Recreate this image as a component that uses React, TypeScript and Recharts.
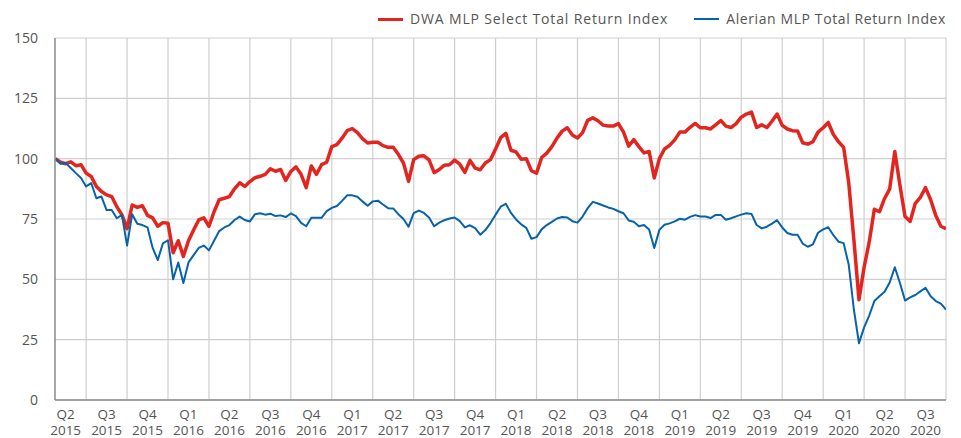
import { CartesianGrid, Line, LineChart, XAxis, YAxis } from "recharts";

// eight readings per quarter, starting a quarter of the way into Q2 2015
const dwa2015 = [
  100, 98.5, 97.9, 98.7, 97.1, 97.5,
  94, 92.6, 88.5, 86.4, 85, 84.3, 80.1, 76.7,
  71, 80.8, 79.8, 80.5, 76.5, 75.5, 72, 73.5,
];
const dwa2016 = [
  73.2, 61, 66, 59.5, 66, 70.4, 74.6, 75.5,
  72, 78, 83, 83.6, 84.3, 87.5, 90, 88.5,
  90.5, 92.1, 92.7, 93.5, 95.8, 94.8, 95.5, 91,
  94.7, 96.6, 93.5, 88, 97, 93.5, 97.5, 98.5,
];
const dwa2017 = [
  105, 105.8, 108.5, 111.6, 112.5, 110.8, 108.3, 106.5,
  106.8, 106.8, 105.4, 104.7, 104.7, 101.8, 98.2, 90.6,
  99.6, 101, 101.2, 99.5, 94.2, 95.5, 97.3, 97.5,
  99.4, 97.7, 94.3, 99.3, 96.1, 95.4, 98.2, 99.6,
];
const dwa2018 = [
  104, 108.7, 110.5, 103.5, 102.8, 99.8, 100, 95,
  94, 100.5, 102.3, 105, 108.5, 111.4, 112.8, 109.8,
  108.6, 110.8, 115.9, 116.9, 115.7, 113.9, 113.5, 113.5,
  114.5, 111, 105.2, 107.9, 105, 102.4, 103, 92,
];
const dwa2019 = [
  100, 104, 105.5, 107.8, 111, 111, 113, 114.6,
  112.8, 112.8, 112.3, 114, 115.8, 113.5, 112.9, 114.5,
  117.2, 118.5, 119.3, 112.9, 114, 112.9, 115.5, 118.5,
  113.8, 112.3, 111.6, 111.5, 106.6, 106, 107, 111,
];
const dwa2020 = [
  112.8, 115, 110, 107, 104.7, 90, 66.5, 41.5,
  55, 65.5, 79, 78, 83.5, 87.5, 103, 89,
  76, 74, 81.5, 84, 88, 83, 76.5, 72, 71,
];

const alerian2015 = [
  100, 97.9, 98.2, 96.1, 94, 92,
  88.5, 89.9, 83.6, 84.3, 78.7, 78.7, 75.3, 76.7,
  64, 77, 73, 72.5, 71.5, 63, 58, 64.9,
];
const alerian2016 = [
  66.2, 50, 57, 48.5, 57, 60, 63, 64,
  62, 66, 70, 71.5, 72.5, 74.6, 76, 74.6,
  74, 77, 77.4, 76.8, 77.2, 76.2, 76.5, 75.8,
  77.3, 76.2, 73.4, 72, 75.5, 75.5, 75.5, 78.3,
];
const alerian2017 = [
  79.6, 80.4, 82.5, 84.8, 84.8, 84.2, 82.3, 80.5,
  82.3, 82.6, 81, 79.5, 79.4, 77, 75, 71.8,
  77.4, 78.5, 77.5, 75.6, 72, 73.5, 74.5, 75.2,
  75.6, 74.1, 71.5, 72.4, 71.2, 68.5, 70.4, 73.3,
];
const alerian2018 = [
  76.8, 80.1, 81.3, 77.5, 74.8, 72.8, 71.3, 66.8,
  67.5, 70.7, 72.5, 73.8, 75.2, 75.8, 75.6, 74.1,
  73.5, 76, 79.5, 82.1, 81.4, 80.6, 79.8, 79.2,
  78.2, 77.4, 74.4, 73.9, 72, 72.5, 70.6, 63,
];
const alerian2019 = [
  70.5, 72.6, 73.2, 74, 75.1, 74.7, 75.9, 76.6,
  76, 76, 75.4, 76.7, 76.7, 74.7, 75.3, 76.1,
  76.8, 77.4, 77.1, 72.5, 71.1, 71.8, 73.1, 74.5,
  71.5, 69.2, 68.5, 68.5, 64.8, 63.5, 64.5, 69.3,
];
const alerian2020 = [
  70.7, 71.6, 68.3, 65.6, 65, 56, 37.5, 23.5,
  30.1, 35, 41, 43, 44.9, 48.7, 55, 48.5,
  41.2, 42.5, 43.5, 45, 46.5, 43, 41, 39.9, 37.5,
];

const quarterNames = [
  "Q2", "Q3", "Q4",
  "Q1", "Q2", "Q3", "Q4",
  "Q1", "Q2", "Q3", "Q4",
  "Q1", "Q2", "Q3", "Q4",
  "Q1", "Q2", "Q3", "Q4",
  "Q1", "Q2", "Q3",
];
const quarterYears = [
  "2015", "2015", "2015",
  "2016", "2016", "2016", "2016",
  "2017", "2017", "2017", "2017",
  "2018", "2018", "2018", "2018",
  "2019", "2019", "2019", "2019",
  "2020", "2020", "2020",
];
const yTicks = [0, 25, 50, 75, 100, 125, 150];

const START = 0.25;
const STEP = 0.125;
const X_MIN = 0.24;
const X_MAX = quarterNames.length;

const dwa = [...dwa2015, ...dwa2016, ...dwa2017, ...dwa2018, ...dwa2019, ...dwa2020];
const alerian = [
  ...alerian2015, ...alerian2016, ...alerian2017,
  ...alerian2018, ...alerian2019, ...alerian2020,
];
const data = dwa.map((v, i) => ({ t: START + i * STEP, dwa: v, alerian: alerian[i] }));

const labelTicks = quarterNames.map((_, i) => i + 0.5);
const boundaries = quarterNames.map((_, i) => i + 1);

const RED = "#e2261f";
const BLUE = "#0763a9";
const TEXT = "#555555";
const FONT = "'Open Sans', sans-serif";

function QuarterTick({ x, y, payload }: any) {
  const i = Math.floor(payload.value);
  return (
    <g>
      <text x={x} y={y + 19} textAnchor="middle" fill={TEXT} fontSize={13.5} fontFamily={FONT}>
        {quarterNames[i]}
      </text>
      <text x={x} y={y + 35} textAnchor="middle" fill={TEXT} fontSize={13.5} fontFamily={FONT}>
        {quarterYears[i]}
      </text>
    </g>
  );
}

function LegendItem(props: { color: string; width: number; label: string; spacing: number }) {
  return (
    <div style={{ display: "flex", alignItems: "center", marginLeft: 26 }}>
      <span
        style={{
          display: "inline-block",
          width: 25,
          height: props.width,
          background: props.color,
          marginRight: 7,
        }}
      />
      <span style={{ letterSpacing: props.spacing }}>{props.label}</span>
    </div>
  );
}

export default function App() {
  return (
    <div style={{ position: "absolute", left: 0, top: 0, width: 961, height: 438, background: "#fff" }}>
      <div
        style={{
          position: "absolute",
          top: 9,
          right: 15,
          display: "flex",
          fontFamily: FONT,
          fontSize: 14,
          color: TEXT,
          lineHeight: "20px",
        }}
      >
        <LegendItem color={RED} width={3} spacing={0.85} label="DWA MLP Select Total Return Index" />
        <LegendItem color={BLUE} width={2} spacing={0.6} label="Alerian MLP Total Return Index" />
      </div>
      <LineChart width={961} height={438} data={data} margin={{ top: 38, right: 15, bottom: 0, left: 0 }}>
        <CartesianGrid
          stroke="#cfcfcf"
          strokeWidth={1.2}
          verticalCoordinatesGenerator={({ xAxis, offset }: any) =>
            boundaries.map((b) =>
              xAxis && typeof xAxis.scale === "function"
                ? xAxis.scale(b)
                : offset.left + ((b - X_MIN) / (X_MAX - X_MIN)) * offset.width
            )
          }
        />
        <XAxis
          type="number"
          dataKey="t"
          domain={[X_MIN, X_MAX]}
          allowDataOverflow
          ticks={labelTicks}
          interval={0}
          tick={<QuarterTick />}
          tickLine={false}
          tickSize={0}
          tickMargin={0}
          height={38}
          axisLine={{ stroke: "#8a8a8a", strokeWidth: 1.5 }}
        />
        <YAxis
          domain={[0, 150]}
          ticks={yTicks}
          interval={0}
          width={55}
          tickLine={false}
          tickSize={0}
          tickMargin={17}
          axisLine={{ stroke: "#8a8a8a", strokeWidth: 1.5 }}
          tick={{ fill: TEXT, fontSize: 14, fontFamily: FONT }}
        />
        <Line
          dataKey="dwa"
          stroke={RED}
          strokeWidth={3.5}
          dot={false}
          isAnimationActive={false}
          strokeLinejoin="round"
        />
        <Line
          dataKey="alerian"
          stroke={BLUE}
          strokeWidth={2}
          dot={false}
          isAnimationActive={false}
          strokeLinejoin="round"
        />
      </LineChart>
    </div>
  );
}
